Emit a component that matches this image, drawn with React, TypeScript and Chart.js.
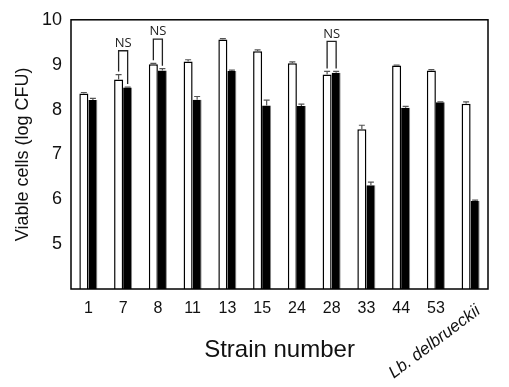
import React, { useEffect, useRef } from "react";
import { Chart, registerables } from "chart.js";

Chart.register(...registerables);

const categories = ["1", "7", "8", "11", "13", "15", "24", "28", "33", "44", "53", "Lb. delbrueckii"];
const whiteValues = [8.36, 8.67, 9.01, 9.07, 9.56, 9.30, 9.03, 8.78, 7.56, 8.98, 8.87, 8.13];
const whiteErrors = [0.02, 0.11, 0.02, 0.04, 0.02, 0.03, 0.03, 0.07, 0.09, 0.01, 0.02, 0.04];
const blackValues = [8.21, 8.49, 8.87, 8.22, 8.86, 8.09, 8.08, 8.82, 6.31, 8.04, 8.16, 5.96];
const blackErrors = [0.04, 0.01, 0.04, 0.07, 0.02, 0.12, 0.04, 0.03, 0.07, 0.03, 0.01, 0.02];
const nsIndices = [1, 2, 7];
const nsTops = [9.31, 9.57, 9.52];
const yTicks = [5, 6, 7, 8, 9, 10];

const FONT = "Arial, 'Liberation Sans', sans-serif";
const TEXT = "#111";

const decorPlugin = {
  id: "decor",
  afterDatasetsDraw(chart: any) {
    const ctx = chart.ctx;
    const y = chart.scales.y;
    const errs = [whiteErrors, blackErrors];
    const vals = [whiteValues, blackValues];
    ctx.save();
    // error bars
    ctx.strokeStyle = "#555";
    ctx.lineWidth = 1.2;
    [0, 1].forEach((d) => {
      const meta = chart.getDatasetMeta(d);
      meta.data.forEach((el: any, i: number) => {
        const top = y.getPixelForValue(vals[d][i] + errs[d][i]);
        const base = y.getPixelForValue(vals[d][i]);
        ctx.beginPath();
        ctx.moveTo(el.x, base);
        ctx.lineTo(el.x, top);
        ctx.moveTo(el.x - 3, top);
        ctx.lineTo(el.x + 3, top);
        ctx.stroke();
      });
    });
    // NS brackets
    ctx.strokeStyle = "#222";
    ctx.lineWidth = 1.3;
    ctx.fillStyle = "#222";
    ctx.font = "13px 'Open Sans', sans-serif";
    ctx.textAlign = "center";
    ctx.textBaseline = "bottom";
    nsIndices.forEach((idx, k) => {
      const w = chart.getDatasetMeta(0).data[idx];
      const b = chart.getDatasetMeta(1).data[idx];
      const topY = y.getPixelForValue(nsTops[k]);
      const wb = y.getPixelForValue(whiteValues[idx] + whiteErrors[idx]) - 3;
      const bb = y.getPixelForValue(blackValues[idx] + blackErrors[idx]) - 3;
      ctx.beginPath();
      ctx.moveTo(w.x, wb);
      ctx.lineTo(w.x, topY);
      ctx.lineTo(b.x, topY);
      ctx.lineTo(b.x, bb);
      ctx.stroke();
      ctx.fillText("NS", (w.x + b.x) / 2, topY - 1);
    });
    // frame
    const a = chart.chartArea;
    ctx.strokeStyle = "#000";
    ctx.lineWidth = 1.5;
    ctx.strokeRect(a.left, a.top, a.right - a.left, a.bottom - a.top);
    // rotated last label
    const xs = chart.scales.x;
    const lx = xs.getPixelForValue(categories.length - 1);
    ctx.fillStyle = TEXT;
    ctx.font = "italic 17px " + FONT;
    ctx.textAlign = "center";
    ctx.textBaseline = "middle";
    ctx.translate(lx - 36, 342);
    ctx.rotate(-37 * Math.PI / 180);
    ctx.fillText(categories[categories.length - 1], 0, 0);
    ctx.restore();
  },
};

export default function App() {
  const ref = useRef<HTMLCanvasElement>(null);
  useEffect(() => {
    const chart = new Chart(ref.current as HTMLCanvasElement, {
      type: "bar",
      data: {
        labels: categories,
        datasets: [
          {
            data: whiteValues,
            backgroundColor: "#fff",
            borderColor: "#000",
            borderWidth: 1.5,
            categoryPercentage: 0.52,
            barPercentage: 1,
          },
          {
            data: blackValues,
            backgroundColor: "#000",
            borderColor: "#888",
            borderWidth: { right: 1, top: 0, left: 0, bottom: 0 },
            categoryPercentage: 0.52,
            barPercentage: 1,
          },
        ],
      },
      options: {
        responsive: false,
        animation: false,
        layout: { padding: { top: 19, right: 21, left: 0, bottom: 0 } },
        plugins: { legend: { display: false }, tooltip: { enabled: false } },
        scales: {
          x: {
            grid: { display: false, drawTicks: false },
            border: { display: false },
            ticks: {
              color: TEXT,
              font: { family: FONT, size: 16 },
              padding: 10,
              maxRotation: 0,
              minRotation: 0,
              autoSkip: false,
              callback: (v: any, i: number) => (i === categories.length - 1 ? "" : categories[i]),
            },
            title: {
              display: true,
              text: "Strain number",
              color: TEXT,
              font: { family: FONT, size: 24 },
              padding: { top: 0, bottom: 22 },
            },
            afterFit: (s: any) => {
              s.height = 98;
            },
          },
          y: {
            min: 4,
            max: 10,
            grid: { display: false, drawTicks: false },
            border: { display: false },
            afterBuildTicks: (s: any) => {
              s.ticks = yTicks.map((v) => ({ value: v }));
            },
            ticks: {
              color: TEXT,
              font: { family: FONT, size: 18 },
              padding: 9,
            },
            title: {
              display: true,
              text: "Viable cells (log CFU)",
              color: TEXT,
              font: { family: FONT, size: 18 },
              padding: { top: 12, bottom: 0 },
            },
            afterFit: (s: any) => {
              s.width = 71;
            },
          },
        },
      },
      plugins: [decorPlugin],
    });
    return () => chart.destroy();
  }, []);
  return (
    <div style={{ position: "fixed", left: 0, top: 0, width: 509, height: 387, background: "#fff" }}>
      <canvas ref={ref} width={509} height={387} />
    </div>
  );
}
